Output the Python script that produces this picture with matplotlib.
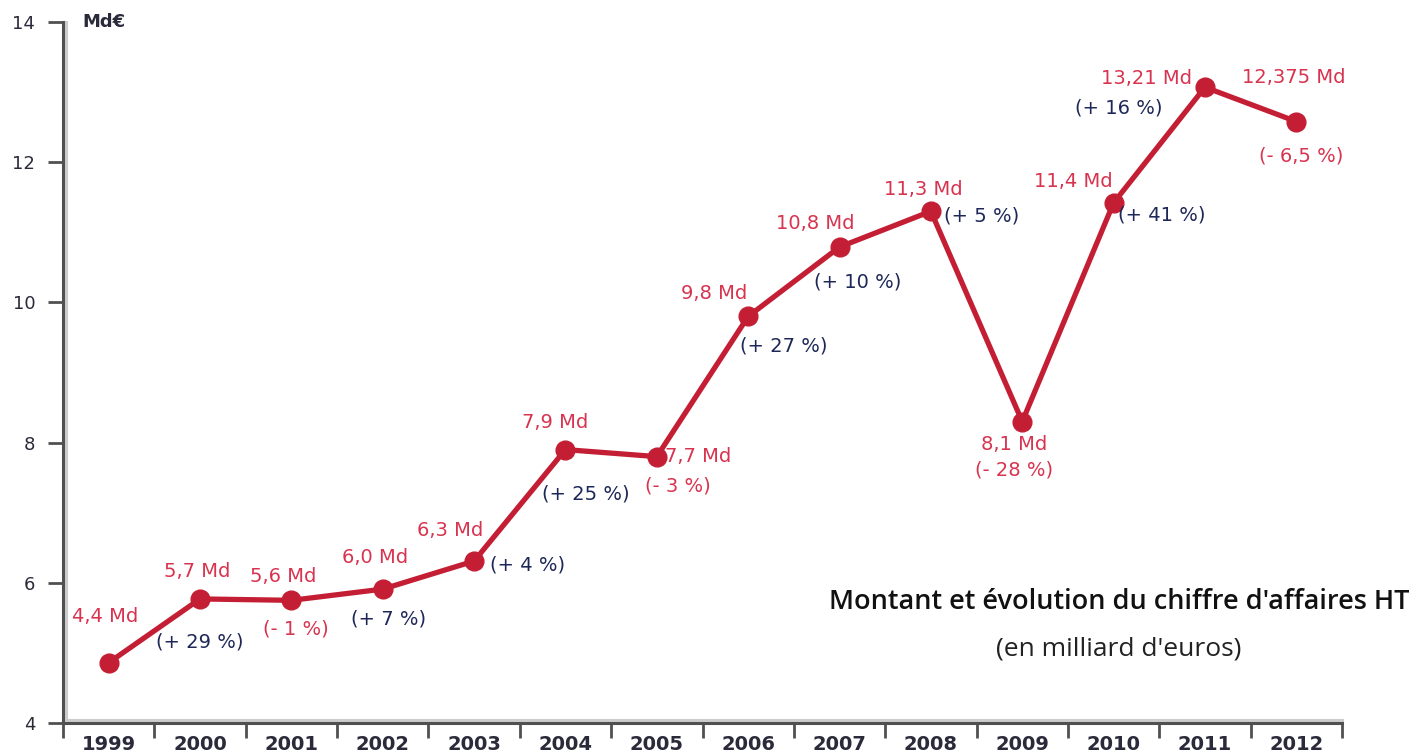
import numpy as np
import matplotlib.pyplot as plt
import matplotlib.transforms as mtransforms
from matplotlib import rcParams

rcParams['font.family'] = ['Liberation Sans Narrow', 'DejaVu Sans Condensed', 'DejaVu Sans']

years = ['1999', '2000', '2001', '2002', '2003', '2004', '2005',
         '2006', '2007', '2008', '2009', '2010', '2011', '2012']
# plotted positions
values = [4.86, 5.77, 5.75, 5.91, 6.31, 7.90, 7.80,
          9.80, 10.79, 11.30, 8.30, 11.42, 13.07, 12.58]
value_labels = ['4,4 Md', '5,7 Md', '5,6 Md', '6,0 Md', '6,3 Md', '7,9 Md', '7,7 Md',
                '9,8 Md', '10,8 Md', '11,3 Md', '8,1 Md', '11,4 Md', '13,21 Md', '12,375 Md']
pct_labels = [None, '(+ 29 %)', '(- 1 %)', '(+ 7 %)', '(+ 4 %)', '(+ 25 %)', '(- 3 %)',
              '(+ 27 %)', '(+ 10 %)', '(+ 5 %)', '(- 28 %)', '(+ 41 %)', '(+ 16 %)', '(- 6,5 %)']

# label offsets in pixels from each point
val_off = [(-4, 46), (-3, 27), (-8, 24), (-8, 32), (-24, 31), (-10, 27), (41, 0),
           (-34, 23), (-24, 24), (-8, 22), (-8, -23), (-40, 21), (-58, 9), (-3, 44)]
pct_off = [None, (0, -43), (4, -29), (6, -30), (53, -4), (20, -44), (21, -29),
           (36, -30), (18, -35), (51, -5), (-8, -48), (48, -12), (-86, -21), (5, -34)]

line_red = '#C41E34'
val_red = '#D8334F'
navy = '#1E2858'
axis_col = '#505050'

fig = plt.figure(figsize=(14.15, 7.55), dpi=100)
ax = fig.add_axes([63 / 1415, 32 / 755, 1279 / 1415, 701 / 755])

x = np.arange(len(years))
ax.plot(x, values, color=line_red, linewidth=3.8, marker='o', markersize=13.5,
        solid_joinstyle='round', zorder=3)

for i, v in enumerate(values):
    ax.annotate(value_labels[i], (i, v), xytext=val_off[i], textcoords='offset pixels',
                ha='center', va='center', fontsize=14, color=val_red)
    if pct_labels[i]:
        c = val_red if pct_labels[i].startswith('(-') else navy
        ax.annotate(pct_labels[i], (i, v), xytext=pct_off[i], textcoords='offset pixels',
                    ha='center', va='center', fontsize=14, color=c)

ax.set_xlim(-0.5, len(years) - 0.5)
ax.set_ylim(4, 14)
ax.set_yticks([4, 6, 8, 10, 12, 14])
ax.set_xticks(np.arange(-0.5, len(years)))
ax.set_xticklabels([])
ax.set_xticks(x, minor=True)
ax.set_xticklabels(years, minor=True, fontsize=14, color='#2a2a3a', fontweight='bold')
ax.tick_params(axis='x', which='major', direction='out', length=11, width=2, color=axis_col)
ax.tick_params(axis='x', which='minor', length=0, pad=9)
ax.tick_params(axis='y', direction='out', length=11, width=2, color=axis_col,
               labelsize=13, labelcolor='#2a2a3a', pad=9)

for s in ['top', 'right']:
    ax.spines[s].set_visible(False)
for s in ['left', 'bottom']:
    ax.spines[s].set_color(axis_col)
    ax.spines[s].set_linewidth(2.2)

# light grey shadow next to the axes
sh_r = ax.transAxes + mtransforms.ScaledTranslation(3 / 100, 0, fig.dpi_scale_trans)
sh_u = ax.transAxes + mtransforms.ScaledTranslation(0, 3 / 100, fig.dpi_scale_trans)
ax.plot([0, 0], [0, 1], transform=sh_r, color='#cccccc', linewidth=2.2, clip_on=False, zorder=1)
ax.plot([0, 1], [0, 0], transform=sh_u, color='#cccccc', linewidth=2.2, clip_on=False, zorder=1)

fig.text(82 / 1415, 1 - 22 / 755, 'Md€', fontsize=13, fontweight='bold', color='#2a2a3a',
         ha='left', va='center')

fig.text(1119 / 1415, 1 - 602 / 755, "Montant et évolution du chiffre d'affaires HT",
         family='Open Sans', fontsize=19.5, fontweight='semibold', ha='center', va='center',
         color='#111111')
fig.text(1119 / 1415, 1 - 649 / 755, "(en milliard d'euros)",
         family='Open Sans', fontsize=19, ha='center', va='center', color='#222222')

fig.savefig('out.png', dpi=100, facecolor='w')
